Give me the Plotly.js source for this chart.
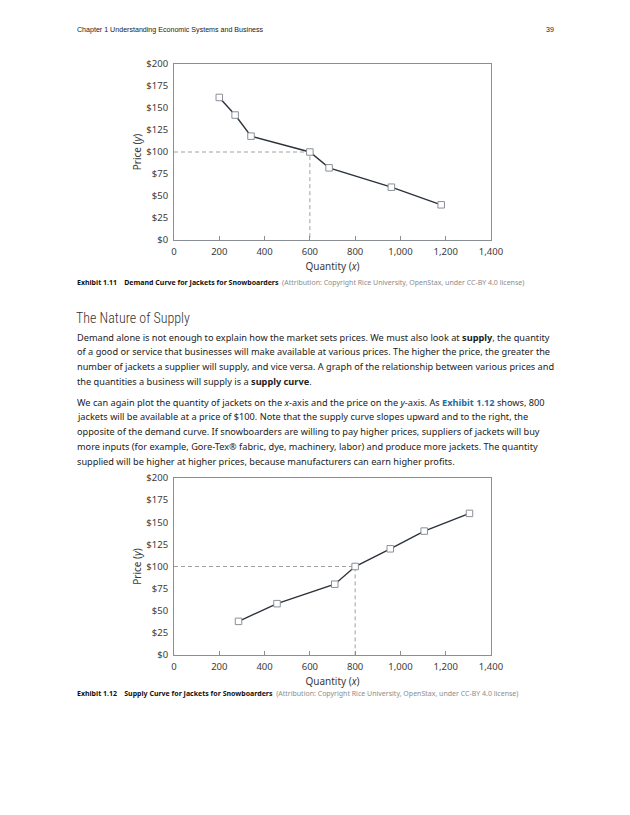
<!DOCTYPE html>
<html>
<head>
<meta charset="utf-8">
<script src="https://cdn.plot.ly/plotly-3.0.1.min.js"></script>
<style>html,body{margin:0;padding:0;background:#fff;}#page{width:630px;height:815px;}</style>
</head>
<body>
<div id="page"></div>
<script>
// ---- data ----
const demandQuantity = [200, 270, 340, 600, 685, 960, 1180];
const demandPrice    = [162, 142, 118, 100, 82, 60, 40];
const demandRefQuantity = 600;
const demandRefPrice = 100;

const supplyQuantity = [285, 455, 710, 800, 955, 1105, 1305];
const supplyPrice    = [38, 58, 80, 100, 120, 140, 160];
const supplyRefQuantity = 800;
const supplyRefPrice = 100;

const xTickValues = [0, 200, 400, 600, 800, 1000, 1200, 1400];
const xTickLabels = ["0", "200", "400", "600", "800", "1,000", "1,200", "1,400"];
const yTickValues = [0, 25, 50, 75, 100, 125, 150, 175, 200];
const yTickLabels = ["$0", "$25", "$50", "$75", "$100", "$125", "$150", "$175", "$200"];

// ---- page text ----
const headerLeft = "Chapter 1 Understanding Economic Systems and Business";
const headerRight = "39";
const caption1Bold = "Exhibit 1.11\u00a0\u00a0\u00a0 Demand Curve for Jackets for Snowboarders";
const caption2Bold = "Exhibit 1.12\u00a0\u00a0\u00a0 Supply Curve for Jackets for Snowboarders";
const captionAttribution = "(Attribution: Copyright Rice University, OpenStax, under CC-BY 4.0 license)";
const sectionHeading = "The Nature of Supply";
const bodyLines1 = [
  "Demand alone is not enough to explain how the market sets prices. We must also look at <b>supply</b>, the quantity",
  "of a good or service that businesses will make available at various prices. The higher the price, the greater the",
  "number of jackets a supplier will supply, and vice versa. A graph of the relationship between various prices and",
  "the quantities a business will supply is a <b>supply curve</b>."
];
const bodyLines2 = [
  "We can again plot the quantity of jackets on the <i>x</i>-axis and the price on the <i>y</i>-axis. As <span style='color:#1b6fa3'><b>Exhibit 1.12</b></span> shows, 800",
  "jackets will be available at a price of $100. Note that the supply curve slopes upward and to the right, the",
  "opposite of the demand curve. If snowboarders are willing to pay higher prices, suppliers of jackets will buy",
  "more inputs (for example, Gore-Tex® fabric, dye, machinery, labor) and produce more jackets. The quantity",
  "supplied will be higher at higher prices, because manufacturers can earn higher profits."
];

const W = 630, H = 815;
const px = v => v / W;
const py = v => 1 - v / H;

const lineColor = "#2b323c";
const markerStyle = {symbol: "square", size: 6.5, color: "#ffffff", line: {color: "#8a8f96", width: 1}};
const dashStyle = {color: "#a0a0a0", width: 1, dash: "4px,3px"};

const traces = [
  {x: [0, demandRefQuantity, demandRefQuantity], y: [demandRefPrice, demandRefPrice, 0],
   mode: "lines", line: dashStyle, xaxis: "x", yaxis: "y", hoverinfo: "skip"},
  {x: demandQuantity, y: demandPrice, mode: "lines+markers",
   line: {color: lineColor, width: 1.4}, marker: markerStyle, xaxis: "x", yaxis: "y"},
  {x: [0, supplyRefQuantity, supplyRefQuantity], y: [supplyRefPrice, supplyRefPrice, 0],
   mode: "lines", line: dashStyle, xaxis: "x2", yaxis: "y2", hoverinfo: "skip"},
  {x: supplyQuantity, y: supplyPrice, mode: "lines+markers",
   line: {color: lineColor, width: 1.4}, marker: markerStyle, xaxis: "x2", yaxis: "y2"}
];

const tickFont = {family: "Noto Sans, Open Sans, sans-serif", size: 9.5, color: "#3a3a3a"};
const titleFont = {family: "Noto Sans, Open Sans, sans-serif", size: 10, color: "#3a3a3a"};

function xAxis(anchor) {
  return {
    domain: [px(174), px(491)], range: [0, 1400], anchor: anchor,
    tickvals: xTickValues, ticktext: xTickLabels, tickfont: tickFont,
    ticks: "inside", ticklen: 4, tickcolor: "#8a8f96", tickwidth: 1,
    ticklabelstandoff: 3,
    showline: true, linecolor: "#8a8f96", linewidth: 1, mirror: true,
    showgrid: false, zeroline: false, fixedrange: true,
    title: {text: "Quantity (<i>x</i>)", font: titleFont, standoff: 5}
  };
}
function yAxis(top, bottom, anchor) {
  return {
    domain: [py(bottom), py(top)], range: [0, 200], anchor: anchor,
    tickvals: yTickValues, ticktext: yTickLabels, tickfont: tickFont,
    ticks: "", ticklabelstandoff: 3,
    showline: true, linecolor: "#8a8f96", linewidth: 1, mirror: true,
    showgrid: false, zeroline: false, fixedrange: true,
    title: {text: "Price (<i>y</i>)", font: titleFont, standoff: 2}
  };
}

const fontBody = "Noto Sans, Open Sans, sans-serif";
const bodySize = 9.2;
const ann = [];
function addText(text, x, y, size, family, color, extra) {
  ann.push(Object.assign({text: text, x: px(x), y: py(y), xref: "paper", yref: "paper",
    xanchor: "left", yanchor: "middle", showarrow: false,
    font: {family: family, size: size, color: color}}, extra || {}));
}
addText(headerLeft, 75, 30, 7.1, "Liberation Sans, Arial, sans-serif", "#222");
addText(headerRight, 556, 30, 7.1, "Liberation Sans, Arial, sans-serif", "#222", {xanchor: "right"});
addText("<b>" + caption1Bold + "</b>\u00a0\u00a0<span style='color:#8c8c8c'>" + captionAttribution + "</span>", 75, 282, 7.0, fontBody, "#111");
addText("<b>" + caption2Bold + "</b>\u00a0\u00a0<span style='color:#8c8c8c'>" + captionAttribution + "</span>", 75, 693, 7.0, fontBody, "#111");
addText(sectionHeading, 74, 318, 14, "Roboto Condensed, Liberation Sans Narrow, Roboto, sans-serif", "#333", {font: {family: "Roboto Condensed, Liberation Sans Narrow, Roboto, sans-serif", size: 14, color: "#333", weight: 300}});
const lineGap = 14.9;
bodyLines1.forEach((t, i) => addText(t, 75, 337 + i * lineGap, bodySize, fontBody, "#222"));
bodyLines2.forEach((t, i) => addText(t, 75, 402 + i * lineGap, bodySize, fontBody, "#222"));

const layout = {
  width: W, height: H, margin: {l: 0, r: 0, t: 0, b: 0},
  paper_bgcolor: "#fff", plot_bgcolor: "#fff", showlegend: false,
  xaxis: xAxis("y"), yaxis: yAxis(64, 240, "x"),
  xaxis2: xAxis("y2"), yaxis2: yAxis(478, 655, "x2"),
  annotations: ann
};

Plotly.newPlot("page", traces, layout, {staticPlot: true, displayModeBar: false});
</script>
</body>
</html>
